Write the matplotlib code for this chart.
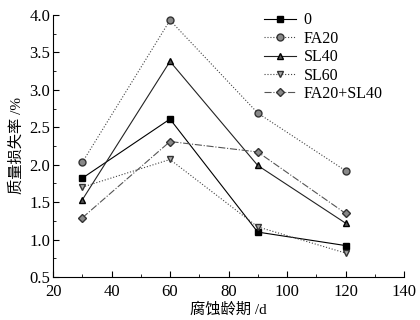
import matplotlib
matplotlib.use('Agg')
import matplotlib.pyplot as plt
from matplotlib.ticker import MultipleLocator

plt.rcParams['font.family'] = ['Liberation Serif', 'Noto Sans CJK SC']

# corrosion age (days)
days = [30, 60, 90, 120]

# mass loss rate (%)
s0 = [1.82, 2.61, 1.10, 0.92]
fa20 = [2.03, 3.93, 2.69, 1.92]
sl40 = [1.53, 3.38, 1.99, 1.22]
sl60 = [1.70, 2.07, 1.17, 0.82]
fa20_sl40 = [1.29, 2.31, 2.17, 1.35]

fig = plt.figure(figsize=(4.2, 3.2), dpi=100)
ax = fig.add_axes([53/420, 43/320, 351/420, 262/320])

ax.plot(days, s0, '-', color='black', lw=0.8, marker='s', ms=5,
        mfc='black', mec='black', label='0')
ax.plot(days, fa20, ':', color='#444444', lw=0.8, marker='o', ms=5,
        mfc='#888888', mec='#333333', label='FA20')
ax.plot(days, sl40, '-', color='#222222', lw=0.8, marker='^', ms=5,
        mfc='#555555', mec='black', label='SL40')
ax.plot(days, sl60, ':', color='#444444', lw=0.8, marker='v', ms=5,
        mfc='#aaaaaa', mec='#333333', label='SL60')
ax.plot(days, fa20_sl40, '-.', color='#555555', lw=0.8, marker='D', ms=4.5,
        mfc='#888888', mec='#333333', label='FA20+SL40')

ax.set_xlim(20, 140)
ax.set_ylim(0.5, 4.0)
ax.xaxis.set_major_locator(MultipleLocator(20))
ax.xaxis.set_minor_locator(MultipleLocator(10))
ax.yaxis.set_major_locator(MultipleLocator(0.5))
ax.yaxis.set_minor_locator(MultipleLocator(0.25))
ax.yaxis.set_major_formatter(plt.FormatStrFormatter('%.1f'))
ax.tick_params(which='both', direction='in', labelsize=12)
ax.tick_params(axis='x', pad=5)
ax.tick_params(axis='y', pad=2)
ax.tick_params(which='major', length=4)
ax.tick_params(which='minor', length=2)
ax.spines['top'].set_visible(False)
ax.spines['right'].set_visible(False)

ax.set_xlabel('腐蚀龄期 /d', fontsize=11, labelpad=2)
ax.set_ylabel('质量损失率 /%', fontsize=11, labelpad=4)

ax.legend(loc='upper left', bbox_to_anchor=(0.56, 1.065), frameon=False,
          fontsize=11.5, handlelength=2.0, labelspacing=0.15, handletextpad=0.5)

fig.savefig('out.png', dpi=100)
